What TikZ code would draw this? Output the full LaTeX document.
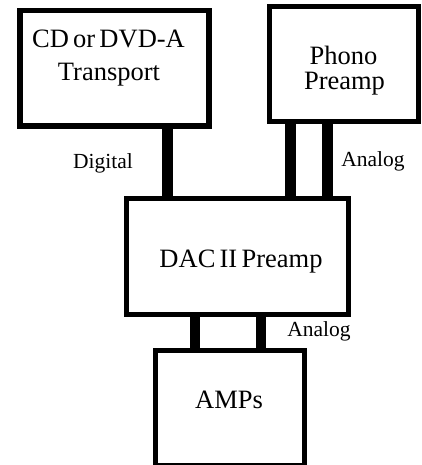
\documentclass[tikz,border=0pt]{standalone}
\usepackage{fontspec}
\setmainfont{Liberation Serif}
\newcommand\myBigFont{\fontsize{26.5}{32}\selectfont\spaceskip=0.16em plus 0.02em\relax}
\begin{document}
\begin{tikzpicture}[x=1pt,y=-1pt,
  box/.style={draw=black,line width=5.5pt,rectangle,inner sep=0pt,outer sep=0pt},
  wire/.style={draw=black,line width=10.5pt,line cap=butt},
  big/.style={anchor=base,inner sep=0pt,font=\myBigFont},
  small/.style={anchor=base,inner sep=0pt,font=\fontsize{21.5}{24}\selectfont}]
\useasboundingbox (0,0) rectangle (422,465);
\clip (0,0) rectangle (422,465);
\node[box,minimum width=189pt,minimum height=115.5pt] (cd) at (114.5,68.25) {};
\node[box,minimum width=149pt,minimum height=115pt] (phono) at (344,64) {};
\node[box,minimum width=222pt,minimum height=116pt] (dac) at (237.5,256.5) {};
\node[box,minimum width=149pt,minimum height=115.5pt] (amps) at (230,408.25) {};
\coordinate (xd) at (167.5,0);
\coordinate (xp1) at (290.5,0);
\coordinate (xp2) at (327.5,0);
\coordinate (xa1) at (195,0);
\coordinate (xa2) at (261,0);
\draw[wire] (cd.south -| xd) -- (dac.north -| xd);
\draw[wire] (phono.south -| xp1) -- (dac.north -| xp1);
\draw[wire] (phono.south -| xp2) -- (dac.north -| xp2);
\draw[wire] (dac.south -| xa1) -- (amps.north -| xa1);
\draw[wire] (dac.south -| xa2) -- (amps.north -| xa2);
\node[big] (t1) at (108.5,48) {CD or DVD-A};
\node[big] (t2) at (109,81) {Transport};
\node[big] (t3) at (343.5,65) {Phono};
\node[big] (t4) at (344.5,90) {Preamp};
\node[big] (t5) at (241,267) {DAC II Preamp};
\node[big] (t6) at (229,408) {AMPs};
\node[small] (l1) at (103,168) {Digital};
\node[small] (l2) at (373,166) {Analog};
\node[small] (l3) at (319,336) {Analog};
\end{tikzpicture}
\end{document}
